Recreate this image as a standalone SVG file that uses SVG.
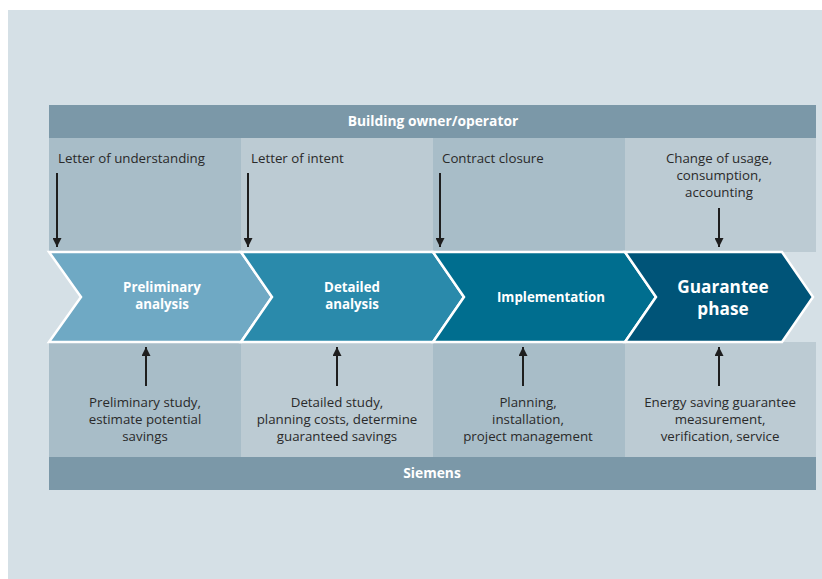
<svg xmlns="http://www.w3.org/2000/svg" width="822" height="579" viewBox="0 0 822 579">
<defs>
<style>
.band{fill:#7b98a8}
.colA{fill:#a8bdc8}
.colB{fill:#bccbd3}
.chev{stroke:#ffffff;stroke-width:2.5;stroke-linejoin:miter}
.hd{font-family:"Open Sans","DejaVu Sans",sans-serif;font-weight:bold;font-size:13.8px;fill:#ffffff;text-anchor:middle}
.ch{font-family:"Open Sans","DejaVu Sans",sans-serif;font-weight:bold;font-size:13.3px;fill:#ffffff;text-anchor:middle}
.chbig{font-family:"Open Sans","DejaVu Sans",sans-serif;font-weight:bold;font-size:17.2px;fill:#ffffff;text-anchor:middle}
.lbl{font-family:"Open Sans","DejaVu Sans",sans-serif;font-size:13.3px;fill:#2a2a2a}
.lblc{font-family:"Open Sans","DejaVu Sans",sans-serif;font-size:13.3px;fill:#2a2a2a;text-anchor:middle}
.arr{stroke:#1e1e1e;stroke-width:2;fill:none}
</style>
<marker id="ah" viewBox="0 0 10 10" refX="10" refY="5" markerWidth="5" markerHeight="4.5" markerUnits="strokeWidth" orient="auto">
<path d="M0,0 L10,5 L0,10 Z" fill="#1e1e1e"/>
</marker>
</defs>
<rect x="0" y="0" width="822" height="579" fill="#ffffff"/>
<rect x="8" y="10" width="814" height="569" fill="#d5e0e6"/>

<g id="columns">
<rect class="colA" x="49" y="138" width="192" height="114"/>
<rect class="colB" x="241" y="138" width="192" height="114"/>
<rect class="colA" x="433" y="138" width="192" height="114"/>
<rect class="colB" x="625" y="138" width="191" height="114"/>
<rect class="colA" x="49" y="342" width="192" height="115"/>
<rect class="colB" x="241" y="342" width="192" height="115"/>
<rect class="colA" x="433" y="342" width="192" height="115"/>
<rect class="colB" x="625" y="342" width="191" height="115"/>
</g>

<g id="header">
<rect class="band" x="49" y="105" width="767" height="33"/>
<text class="hd" x="433" y="126">Building owner/operator</text>
</g>

<g id="footer">
<rect class="band" x="49" y="457" width="767" height="33"/>
<text class="hd" x="432" y="478">Siemens</text>
</g>

<g id="node-preliminary">
<polygon class="chev" fill="#6fa9c4" points="49,252 241,252 272,297 241,342 49,342 81,297"/>
<text class="ch" x="162" y="292">Preliminary</text>
<text class="ch" x="162" y="309">analysis</text>
</g>
<g id="node-detailed">
<polygon class="chev" fill="#2a8aab" points="241,252 433,252 464,297 433,342 241,342 272,297"/>
<text class="ch" x="352" y="292">Detailed</text>
<text class="ch" x="352" y="309">analysis</text>
</g>
<g id="node-implementation">
<polygon class="chev" fill="#006e8f" points="433,252 625,252 656,297 625,342 433,342 464,297"/>
<text class="ch" x="551" y="302">Implementation</text>
</g>
<g id="node-guarantee">
<polygon class="chev" fill="#005478" points="625,252 782,252 813,297 782,342 625,342 656,297"/>
<text class="chbig" x="723" y="293">Guarantee</text>
<text class="chbig" x="723" y="315">phase</text>
</g>

<g id="top-labels">
<text class="lbl" x="58" y="163">Letter of understanding</text>
<text class="lbl" x="251" y="163">Letter of intent</text>
<text class="lbl" x="442" y="163">Contract closure</text>
<text class="lblc" x="719" y="163">Change of usage,</text>
<text class="lblc" x="719" y="180">consumption,</text>
<text class="lblc" x="719" y="197">accounting</text>
</g>

<g id="bottom-labels">
<text class="lblc" x="145" y="407">Preliminary study,</text>
<text class="lblc" x="145" y="424">estimate potential</text>
<text class="lblc" x="145" y="441">savings</text>
<text class="lblc" x="337" y="407">Detailed study,</text>
<text class="lblc" x="337" y="424">planning costs, determine</text>
<text class="lblc" x="337" y="441">guaranteed savings</text>
<text class="lblc" x="528" y="407">Planning,</text>
<text class="lblc" x="528" y="424">installation,</text>
<text class="lblc" x="528" y="441">project management</text>
<text class="lblc" x="720" y="407">Energy saving guarantee</text>
<text class="lblc" x="720" y="424">measurement,</text>
<text class="lblc" x="720" y="441">verification, service</text>
</g>

<g id="connectors">
<line class="arr" x1="57" y1="173" x2="57" y2="247" marker-end="url(#ah)"/>
<line class="arr" x1="248" y1="173" x2="248" y2="247" marker-end="url(#ah)"/>
<line class="arr" x1="440" y1="173" x2="440" y2="247" marker-end="url(#ah)"/>
<line class="arr" x1="719" y1="208" x2="719" y2="247" marker-end="url(#ah)"/>
<line class="arr" x1="146" y1="386" x2="146" y2="347" marker-end="url(#ah)"/>
<line class="arr" x1="337" y1="386" x2="337" y2="347" marker-end="url(#ah)"/>
<line class="arr" x1="523" y1="386" x2="523" y2="347" marker-end="url(#ah)"/>
<line class="arr" x1="719" y1="386" x2="719" y2="347" marker-end="url(#ah)"/>
</g>
</svg>
